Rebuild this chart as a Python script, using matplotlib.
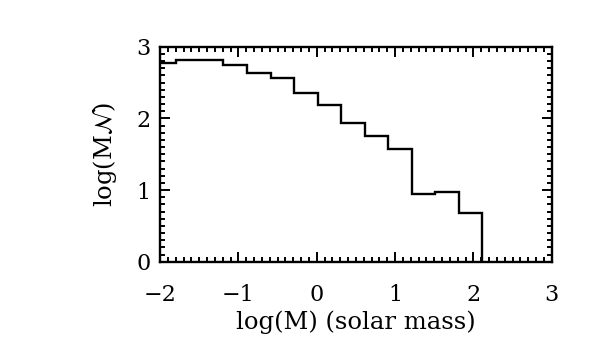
import matplotlib
matplotlib.use("Agg")
import matplotlib.pyplot as plt
import numpy as np
from matplotlib.ticker import MultipleLocator

# bin edges (log solar mass) and log(M N) values per bin
bin_edges = [-2.09, -1.79, -1.49, -1.19, -0.89, -0.59, -0.29, 0.01,
             0.31, 0.61, 0.91, 1.21, 1.51, 1.81, 2.11]
log_MN = [2.78, 2.82, 2.81, 2.75, 2.64, 2.57, 2.35, 2.19,
          1.93, 1.76, 1.57, 0.94, 0.98, 0.68]
x_ticks = [-2, -1, 0, 1, 2, 3]
y_ticks = [0, 1, 2, 3]

plt.rcParams['font.family'] = ['DejaVu Serif']
fig = plt.figure(figsize=(6, 3.6), dpi=100)
ax = fig.add_axes([0.2667, 0.273, 0.653, 0.597])

xs = np.array(bin_edges)
ys = np.array(log_MN)
# step outline, dropping to the floor at the last edge
sx = np.concatenate([np.repeat(xs, 2)[1:-1], [xs[-1]]])
sy = np.concatenate([np.repeat(ys, 2), [-1.0]])
ax.plot(sx, sy, color='black', lw=1.7, solid_joinstyle='miter')

ax.set_xlim(-2, 3)
ax.set_ylim(0, 3)
ax.set_xticks(x_ticks)
ax.set_yticks(y_ticks)
ax.set_xticklabels(['\u22122', '\u22121', '0', '1', '2', '3'])
ax.xaxis.set_minor_locator(MultipleLocator(0.1))
ax.yaxis.set_minor_locator(MultipleLocator(0.1))
ax.tick_params(which='both', direction='in', top=True, right=True,
               width=1.4, color='black', labelsize=16)
ax.tick_params(which='major', length=7)
ax.tick_params(which='minor', length=3.5)
ax.tick_params(axis='x', which='major', pad=16)
ax.tick_params(axis='y', which='major', pad=7)
for s in ax.spines.values():
    s.set_linewidth(1.7)

ax.set_xlabel('log(M) (solar mass)', fontsize=17.5, labelpad=3)
ax.set_ylabel(r'log(M$\mathcal{N}$)', fontsize=17.5, labelpad=12)

fig.savefig('out.png', dpi=100)
